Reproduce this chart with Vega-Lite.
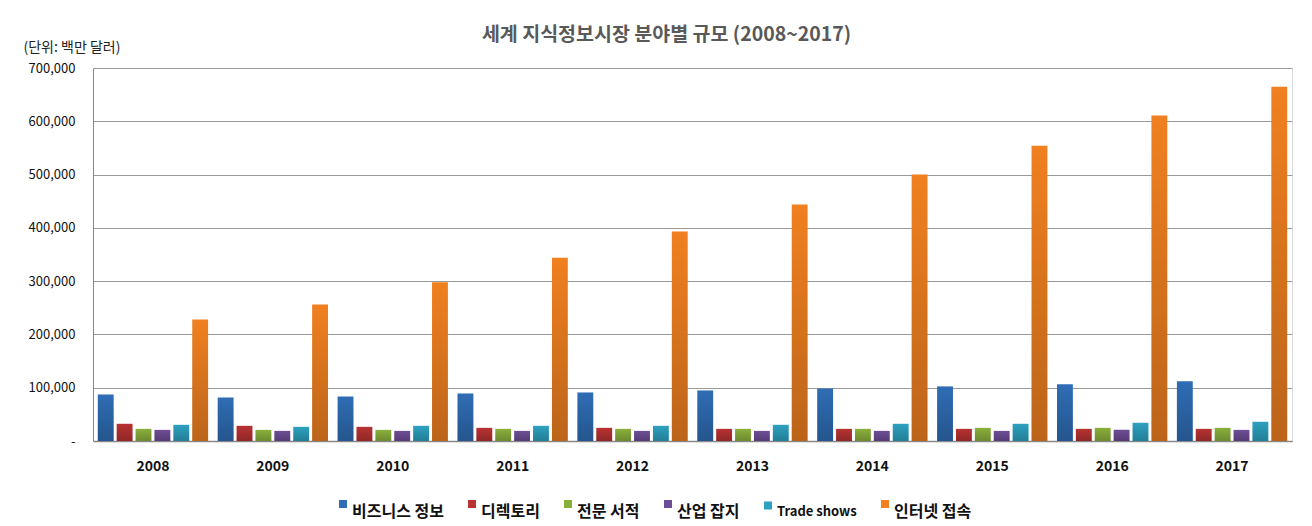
{
  "$schema": "https://vega.github.io/schema/vega-lite/v6.json",
  "autosize": "none",
  "padding": {"left": 93, "top": 68, "right": 20, "bottom": 85},
  "width": 1199,
  "height": 373,
  "background": "white",
  "title": {
    "text": "세계 지식정보시장 분야별 규모 (2008~2017)",
    "font": "Noto Sans CJK KR",
    "fontSize": 19.5,
    "fontWeight": "bold",
    "color": "#595959",
    "anchor": "middle",
    "dx": -26,
    "offset": -5
  },
  "data": {
    "values": [
      {"year": "2008", "series": "비즈니스 정보", "value": 87300},
      {"year": "2009", "series": "비즈니스 정보", "value": 81600},
      {"year": "2010", "series": "비즈니스 정보", "value": 83500},
      {"year": "2011", "series": "비즈니스 정보", "value": 89200},
      {"year": "2012", "series": "비즈니스 정보", "value": 91100},
      {"year": "2013", "series": "비즈니스 정보", "value": 94900},
      {"year": "2014", "series": "비즈니스 정보", "value": 98700},
      {"year": "2015", "series": "비즈니스 정보", "value": 102500},
      {"year": "2016", "series": "비즈니스 정보", "value": 106300},
      {"year": "2017", "series": "비즈니스 정보", "value": 112000},
      {"year": "2008", "series": "디렉토리", "value": 32300},
      {"year": "2009", "series": "디렉토리", "value": 28500},
      {"year": "2010", "series": "디렉토리", "value": 26600},
      {"year": "2011", "series": "디렉토리", "value": 24700},
      {"year": "2012", "series": "디렉토리", "value": 24700},
      {"year": "2013", "series": "디렉토리", "value": 22800},
      {"year": "2014", "series": "디렉토리", "value": 22800},
      {"year": "2015", "series": "디렉토리", "value": 22800},
      {"year": "2016", "series": "디렉토리", "value": 22800},
      {"year": "2017", "series": "디렉토리", "value": 22800},
      {"year": "2008", "series": "전문 서적", "value": 22800},
      {"year": "2009", "series": "전문 서적", "value": 20900},
      {"year": "2010", "series": "전문 서적", "value": 20900},
      {"year": "2011", "series": "전문 서적", "value": 22800},
      {"year": "2012", "series": "전문 서적", "value": 22800},
      {"year": "2013", "series": "전문 서적", "value": 22800},
      {"year": "2014", "series": "전문 서적", "value": 22800},
      {"year": "2015", "series": "전문 서적", "value": 24700},
      {"year": "2016", "series": "전문 서적", "value": 24700},
      {"year": "2017", "series": "전문 서적", "value": 24700},
      {"year": "2008", "series": "산업 잡지", "value": 20900},
      {"year": "2009", "series": "산업 잡지", "value": 19000},
      {"year": "2010", "series": "산업 잡지", "value": 19000},
      {"year": "2011", "series": "산업 잡지", "value": 19000},
      {"year": "2012", "series": "산업 잡지", "value": 19000},
      {"year": "2013", "series": "산업 잡지", "value": 19000},
      {"year": "2014", "series": "산업 잡지", "value": 19000},
      {"year": "2015", "series": "산업 잡지", "value": 19000},
      {"year": "2016", "series": "산업 잡지", "value": 20900},
      {"year": "2017", "series": "산업 잡지", "value": 20900},
      {"year": "2008", "series": "Trade shows", "value": 30400},
      {"year": "2009", "series": "Trade shows", "value": 26600},
      {"year": "2010", "series": "Trade shows", "value": 28500},
      {"year": "2011", "series": "Trade shows", "value": 28500},
      {"year": "2012", "series": "Trade shows", "value": 28500},
      {"year": "2013", "series": "Trade shows", "value": 30400},
      {"year": "2014", "series": "Trade shows", "value": 32300},
      {"year": "2015", "series": "Trade shows", "value": 32300},
      {"year": "2016", "series": "Trade shows", "value": 34200},
      {"year": "2017", "series": "Trade shows", "value": 36100},
      {"year": "2008", "series": "인터넷 접속", "value": 228000},
      {"year": "2009", "series": "인터넷 접속", "value": 256000},
      {"year": "2010", "series": "인터넷 접속", "value": 298000},
      {"year": "2011", "series": "인터넷 접속", "value": 344000},
      {"year": "2012", "series": "인터넷 접속", "value": 393000},
      {"year": "2013", "series": "인터넷 접속", "value": 444000},
      {"year": "2014", "series": "인터넷 접속", "value": 500000},
      {"year": "2015", "series": "인터넷 접속", "value": 554000},
      {"year": "2016", "series": "인터넷 접속", "value": 611000},
      {"year": "2017", "series": "인터넷 접속", "value": 665000}
    ]
  },
  "encoding": {
    "x": {
      "field": "year",
      "type": "ordinal",
      "scale": {"paddingInner": 0.08, "paddingOuter": 0.04},
      "axis": {
        "title": null,
        "labelAngle": 0,
        "ticks": false,
        "domainColor": "#888888",
        "domainWidth": 1.5,
        "labelFont": "Noto Sans CJK KR",
        "labelFontSize": 14,
        "labelFontWeight": "bold",
        "labelColor": "#111111",
        "labelPadding": 18,
        "labelBaseline": "top"
      }
    },
    "xOffset": {
      "field": "series",
      "type": "nominal",
      "sort": ["비즈니스 정보", "디렉토리", "전문 서적", "산업 잡지", "Trade shows", "인터넷 접속"],
      "scale": {"paddingInner": 0.16, "paddingOuter": 0}
    },
    "y": {
      "field": "value",
      "type": "quantitative",
      "scale": {"domain": [0, 700000], "nice": false},
      "axis": {
        "title": "(단위: 백만 달러)",
        "titleAngle": 0,
        "titleAlign": "left",
        "titleBaseline": "top",
        "titleX": -70,
        "titleY": -28,
        "titleFont": "Noto Sans CJK KR",
        "titleFontSize": 14,
        "titleFontWeight": "normal",
        "titleColor": "#222222",
        "values": [0, 100000, 200000, 300000, 400000, 500000, 600000, 700000],
        "labelExpr": "datum.value == 0 ? '-' : format(datum.value, ',')",
        "labelFont": "Noto Sans CJK KR",
        "labelFontSize": 13,
        "labelColor": "#111111",
        "labelPadding": 18,
        "ticks": false,
        "domainColor": "#888888",
        "domainWidth": 1,
        "grid": true,
        "gridColor": "#999999",
        "gridWidth": 1.2
      }
    }
  },
  "layer": [
    {
      "mark": {"type": "bar"},
      "encoding": {
        "color": {
          "field": "series",
          "type": "nominal",
          "scale": {
            "domain": ["비즈니스 정보", "디렉토리", "전문 서적", "산업 잡지", "Trade shows", "인터넷 접속"],
            "range": ["#2F6DB5", "#B83232", "#8AB03C", "#6E4D96", "#2DA1C0", "#F08020"]
          },
          "legend": {
            "title": null,
            "orient": "none",
            "legendX": 242,
            "legendY": 428,
            "direction": "horizontal",
            "symbolType": "square",
            "symbolSize": 64,
            "symbolStrokeWidth": 0,
            "labelFont": "Noto Sans CJK KR",
            "labelFontSize": 16,
            "labelFontWeight": "bold",
            "labelColor": "#111111",
            "labelOffset": 1,
            "columnPadding": 20,
            "labelBaseline": "top",
            "encode": {
              "labels": {
                "update": {
                  "fontSize": {"signal": "datum.label == 'Trade shows' ? 13 : 16"}
                }
              }
            }
          }
        }
      }
    },
    {
      "mark": {
        "type": "bar",
        "color": {
          "gradient": "linear",
          "x1": 0, "y1": 0, "x2": 0, "y2": 1,
          "stops": [
            {"offset": 0, "color": "rgba(0,0,0,0)"},
            {"offset": 1, "color": "rgba(0,0,0,0.22)"}
          ]
        }
      },
      "encoding": {}
    }
  ]
}
